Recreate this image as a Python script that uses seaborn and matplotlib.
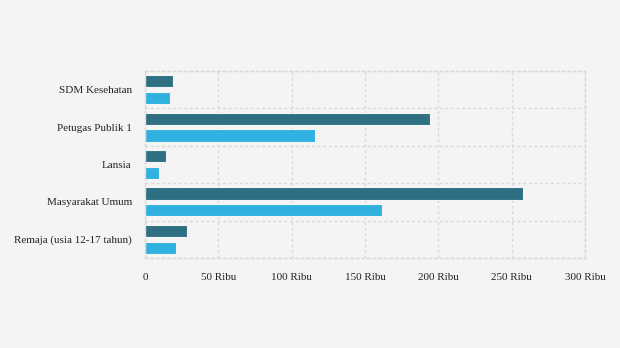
import matplotlib
matplotlib.use("Agg")
import matplotlib.pyplot as plt
import seaborn as sns
import pandas as pd
from matplotlib.ticker import FixedLocator

categories = ["SDM Kesehatan", "Petugas Publik 1", "Lansia", "Masyarakat Umum", "Remaja (usia 12-17 tahun)"]
series_names = ["Dosis 1", "Dosis 2"]
dosis1 = [19000, 194300, 14300, 257700, 28600]
dosis2 = [17000, 115900, 9500, 161600, 21100]
x_ticks = [0, 50000, 100000, 150000, 200000, 250000, 300000]
x_tick_labels = ["0", "50 Ribu", "100 Ribu", "150 Ribu", "200 Ribu", "250 Ribu", "300 Ribu"]
colors = ["#2e6f84", "#31b1e0"]

df = pd.DataFrame({
    "kategori": categories * 2,
    "nilai": dosis1 + dosis2,
    "seri": [series_names[0]] * len(categories) + [series_names[1]] * len(categories),
})

sns.set_style("white")
plt.rcParams["font.family"] = ["Liberation Serif", "DejaVu Serif"]

fig = plt.figure(figsize=(6.2, 3.48), dpi=100, facecolor="#f4f4f4")
ax = fig.add_axes([145/620, 1 - 258/348, 440/620, 187/348])
ax.set_facecolor("#f4f4f4")

sns.barplot(data=df, y="kategori", x="nilai", hue="seri", orient="h",
            palette=colors, width=0.9, gap=0.27, edgecolor="#f4f4f4",
            linewidth=0.8, ax=ax, legend=False, errorbar=None, saturation=1)

ax.set_xlim(0, 300000)
ax.set_ylim(len(categories) - 0.5, -0.5)
ax.xaxis.set_major_locator(FixedLocator(x_ticks))
ax.set_xticklabels(x_tick_labels)
ax.set_xlabel("")
ax.set_ylabel("")

ax.set_yticks(range(len(categories)), minor=False)
ax.set_yticks([i - 0.5 for i in range(len(categories) + 1)], minor=True)
ax.grid(False)
ax.grid(True, axis="x", which="major", color="#d8d8d8", linestyle=(0, (2, 2)), linewidth=1)
ax.grid(True, axis="y", which="minor", color="#d8d8d8", linestyle=(0, (2, 2)), linewidth=1)
ax.set_axisbelow(True)

for s in ax.spines.values():
    s.set_visible(True)
    s.set_color("#d8d8d8")
    s.set_linestyle((0, (2, 2)))
    s.set_linewidth(1)

ax.tick_params(axis="x", which="major", length=0, pad=10.5, labelsize=8, colors="#222222")
ax.tick_params(axis="y", which="major", length=4, width=0.8, color="#dddddd", pad=5.5, labelsize=8, labelcolor="#222222")
ax.tick_params(axis="y", which="minor", length=0)

fig.savefig("out.png", dpi=100, facecolor=fig.get_facecolor())
